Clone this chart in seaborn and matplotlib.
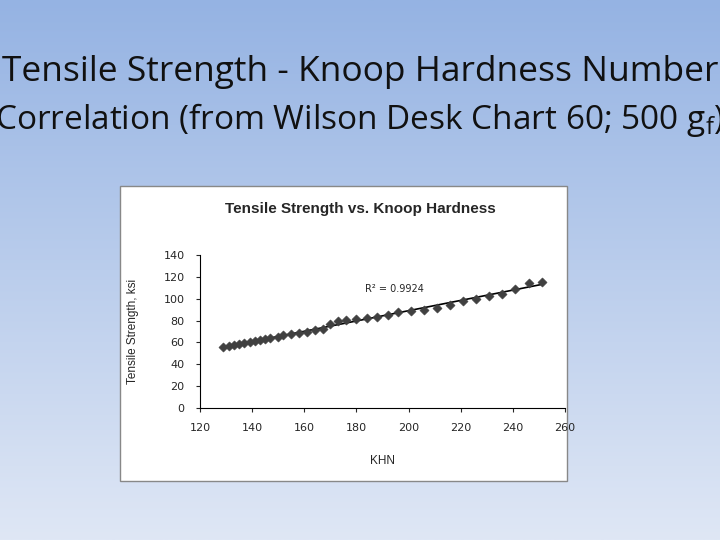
import numpy as np
import matplotlib
matplotlib.use("Agg")
import matplotlib.pyplot as plt
import seaborn as sns
from matplotlib.patches import Rectangle
from matplotlib.colors import LinearSegmentedColormap

khn = [129,131,133,135,137,139,141,143,145,147,150,152,155,158,161,164,167,170,173,176,
       180,184,188,192,196,201,206,211,216,221,226,231,236,241,246,251]
tensile = [55.5,56.7,57.3,58.3,59.2,60.1,61.0,62.2,63.1,64.1,65.3,66.5,67.8,68.7,69.6,71.4,72.6,76.9,79.9,80.5,
           81.4,82.4,83.3,84.9,87.5,88.8,89.7,91.8,94.3,98.3,99.8,102.2,104.1,109.0,114.1,115.6]
x_ticks = [120,140,160,180,200,220,240,260]
y_ticks = [0,20,40,60,80,100,120,140]

sns.set_style("white")
fig = plt.figure(figsize=(7.2,5.4), dpi=100)
bg = fig.add_axes([0,0,1,1]); bg.set_axis_off()
grad = np.linspace(0,1,256)[:,None]
cm = LinearSegmentedColormap.from_list("g", ["#95b3e3", "#dfe7f5"])
bg.imshow(grad, aspect="auto", cmap=cm, extent=[0,1,0,1], origin="upper")
bg.set_xlim(0,1); bg.set_ylim(0,1)
bg.add_patch(Rectangle((120/720, 1-481/540), 447/720, 295/540, facecolor="white", edgecolor="#888888", lw=1))
fig.text(0.5, 1-72/540, "Tensile Strength - Knoop Hardness Number", ha="center", va="center",
         fontsize=25.5, family="Open Sans", color="#111111")
fig.text(0.5, 1-120/540, "Correlation (from Wilson Desk Chart 60; 500 g$_\\mathregular{f}$)", ha="center", va="center",
         fontsize=24, family="Open Sans", color="#111111")

ax = fig.add_axes([200/720, 1-408/540, 365/720, 153/540])
sns.scatterplot(x=khn, y=tensile, ax=ax, marker="D", s=22, color="#404040", edgecolor="#404040", zorder=3)
p = np.polyfit(khn, tensile, 1)
xx = np.array([min(khn), max(khn)])
sns.lineplot(x=xx, y=np.polyval(p, xx), ax=ax, color="black", lw=1.2)
ax.set_xlim(120,260); ax.set_ylim(0,140)
ax.set_xticks(x_ticks); ax.set_yticks(y_ticks)
ax.tick_params(labelsize=8, length=3, direction="out", left=True, bottom=True, pad=8)
for s in ["top","right"]:
    ax.spines[s].set_visible(False)
for s in ["left","bottom"]:
    ax.spines[s].set_color("black"); ax.spines[s].set_linewidth(0.8)
ax.set_xlabel("KHN", fontsize=8.5, family="Liberation Sans", labelpad=16)
ax.set_ylabel("Tensile Strength, ksi", fontsize=8.5, family="Liberation Sans", labelpad=18)
ax.text(206, 109, "R² = 0.9924", fontsize=7, ha="right", va="center")
fig.text(0.5, 1-209/540, "Tensile Strength vs. Knoop Hardness", ha="center", va="center",
         fontsize=11, fontweight="bold", family="Liberation Sans")
fig.savefig("out.png", dpi=100)
